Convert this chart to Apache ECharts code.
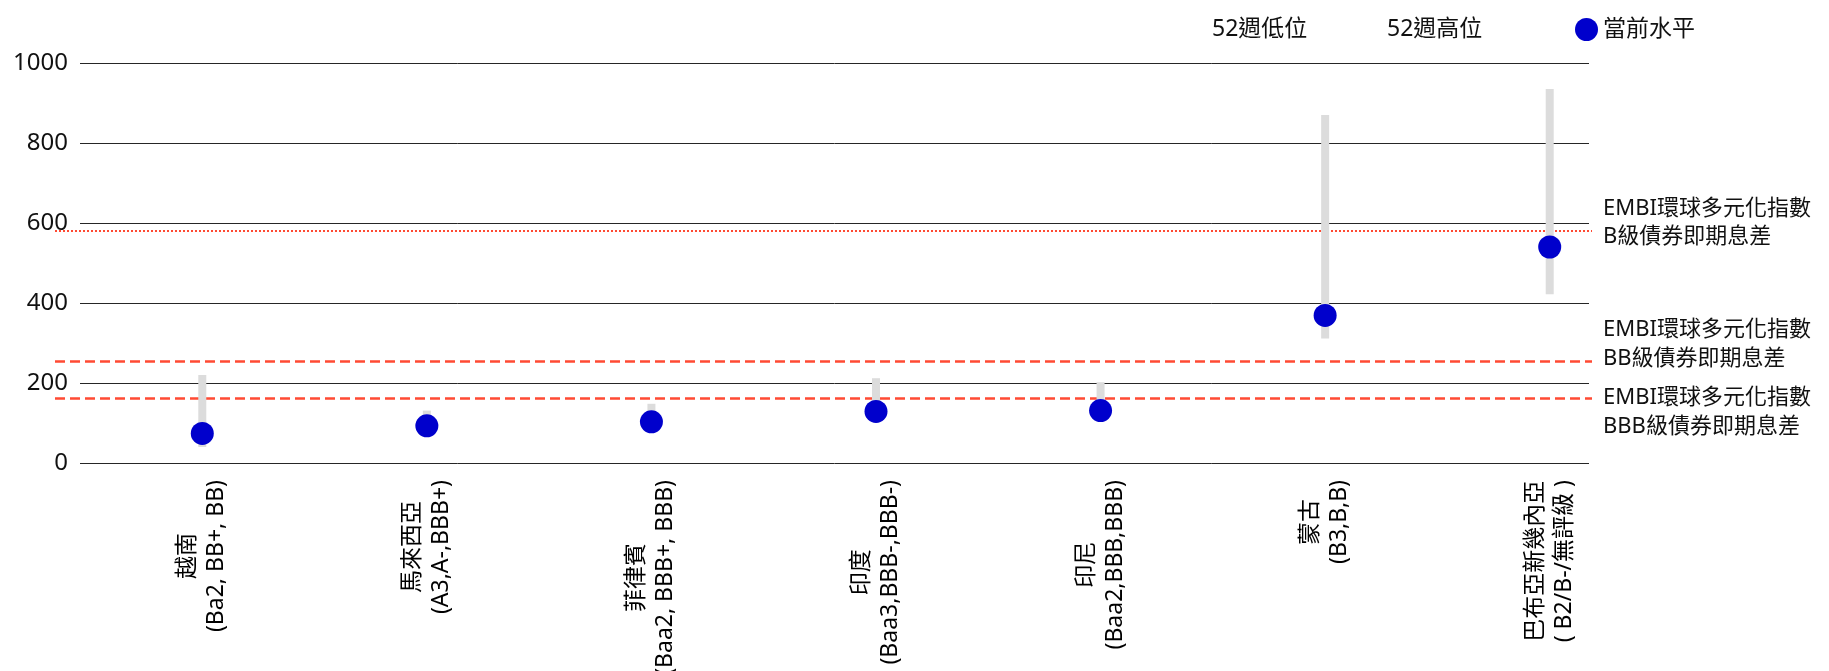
<!DOCTYPE html>
<html>
<head>
<meta charset="utf-8">
<script src="https://cdn.jsdelivr.net/npm/echarts@6/dist/echarts.min.js"></script>
<style>
html,body{margin:0;padding:0;background:#fff;}
#chart{width:1829px;height:671px;}
</style>
</head>
<body>
<div id="chart"></div>
<script>
var countries = ['越南','馬來西亞','菲律賓','印度','印尼','蒙古','巴布亞新幾內亞'];
var ratings = ['(Ba2, BB+, BB)','(A3,A-,BBB+)','(Baa2, BBB+, BBB)','(Baa3,BBB-,BBB-)','(Baa2,BBB,BBB)','(B3,B,B)','( B2/B-/無評級 )'];
var low52 = [40, 82, 92, 118, 120, 311, 422];
var high52 = [220, 131, 148, 212, 202, 870, 935];
var current = [74, 93, 103, 129, 131, 369, 540];
var refLine1 = ['EMBI環球多元化指數','EMBI環球多元化指數','EMBI環球多元化指數'];
var refLine2 = ['B級債券即期息差','BB級債券即期息差','BBB級債券即期息差'];
var refValues = [581, 255, 162];
var yTicks = [0, 200, 400, 600, 800, 1000];

var FONT = '"Noto Sans", "Noto Sans CJK TC", sans-serif';
var TXT = '#111';
var RED = '#ff4a33';

var rangeData = high52.map(function (h, i) { return h - low52[i]; });

// shift: negative = label moved up, positive = moved down (px)
var refStyles = [
  {type: [2, 2], width: 2, shift: -8},
  {type: [10, 5], width: 2.5, shift: -17},
  {type: [10, 5], width: 2.5, shift: 14}
];

var markData = refValues.map(function (v, i) {
  var s = refStyles[i].shift;
  var txt = '{t|' + refLine1[i] + '}\n{t|' + refLine2[i] + '}';
  if (s < 0) { txt = txt + '\n{s| }'; }
  else if (s > 0) { txt = '{s| }\n' + txt; }
  return {
    yAxis: v,
    lineStyle: {color: RED, type: refStyles[i].type, width: refStyles[i].width},
    label: {
      show: true,
      position: 'end',
      distance: 11,
      formatter: txt,
      color: TXT,
      rich: {
        t: {fontFamily: FONT, fontSize: 22, lineHeight: 28.5, color: TXT, align: 'left'},
        s: {fontSize: 1, lineHeight: Math.abs(s) * 2}
      }
    }
  };
});

var chart = echarts.init(document.getElementById('chart'));
chart.setOption({
  animation: false,
  backgroundColor: '#fff',
  grid: [
    {left: 80, right: 240, top: 63, bottom: 208, containLabel: false, outerBoundsMode: 'none'},
    {left: 90, right: 167, top: 63, bottom: 208, containLabel: false, outerBoundsMode: 'none'},
    {left: 55, right: 237, top: 63, bottom: 208, containLabel: false, outerBoundsMode: 'none'}
  ],
  legend: [
    {left: 1179, top: 13, itemWidth: 23, itemHeight: 23, itemGap: 0,
     textStyle: {fontFamily: FONT, fontSize: 23, color: TXT},
     data: [{name: '52週低位', icon: 'rect', itemStyle: {color: 'rgba(0,0,0,0)', borderWidth: 0}}]},
    {left: 1354, top: 13, itemWidth: 23, itemHeight: 23, itemGap: 0,
     textStyle: {fontFamily: FONT, fontSize: 23, color: TXT},
     data: [{name: '52週高位', icon: 'rect', itemStyle: {color: 'rgba(0,0,0,0)', borderWidth: 0}}]},
    {left: 1570, top: 13, itemWidth: 23, itemHeight: 23, itemGap: 0,
     textStyle: {fontFamily: FONT, fontSize: 23, color: TXT},
     data: [{name: '當前水平', icon: 'circle'}]}
  ],
  xAxis: [
    {gridIndex: 0, type: 'value', min: 0, max: 1, show: false},
    {gridIndex: 1, type: 'category', data: countries, boundaryGap: true,
     axisLine: {show: false}, axisTick: {show: false},
     axisLabel: {
       interval: 0, rotate: 90, margin: 17, hideOverlap: false,
       formatter: function (v, i) { return '{n|' + v + '}\n{r|' + ratings[i] + '}'; },
       rich: {
         n: {align: 'center', fontFamily: FONT, fontSize: 23, lineHeight: 29, color: '#000'},
         r: {align: 'center', fontFamily: FONT, fontSize: 23, lineHeight: 29, color: '#000'}
       }
     }},
    {gridIndex: 2, type: 'value', min: 0, max: 1, show: false}
  ],
  yAxis: [
    {gridIndex: 0, type: 'value', min: yTicks[0], max: yTicks[yTicks.length - 1], interval: 200,
     axisLine: {show: false}, axisTick: {show: false},
     axisLabel: {margin: 12, fontFamily: FONT, fontSize: 24, color: TXT,
                 formatter: function (v) { return String(v); }},
     splitLine: {show: true, lineStyle: {color: '#262626', width: 1}}},
    {gridIndex: 1, type: 'value', min: 0, max: 1000, show: false, splitLine: {show: false}},
    {gridIndex: 2, type: 'value', min: 0, max: 1000, show: false, splitLine: {show: false}}
  ],
  series: [
    {name: 'refs', type: 'line', xAxisIndex: 2, yAxisIndex: 2, data: [], z: 1,
     silent: true,
     markLine: {silent: true, symbol: ['none', 'none'], data: markData, z: 1}},
    {name: '52週低位', type: 'bar', xAxisIndex: 1, yAxisIndex: 1, stack: 'range',
     barWidth: 8, data: low52, z: 2,
     itemStyle: {color: 'rgba(0,0,0,0)'}},
    {name: '52週高位', type: 'bar', xAxisIndex: 1, yAxisIndex: 1, stack: 'range',
     barWidth: 8, data: rangeData, z: 2,
     itemStyle: {color: '#dcdcdc'}},
    {name: '當前水平', type: 'scatter', xAxisIndex: 1, yAxisIndex: 1,
     symbol: 'circle', symbolSize: 23, data: current, z: 3,
     itemStyle: {color: '#0000cc', opacity: 1}}
  ]
});
</script>
</body>
</html>
